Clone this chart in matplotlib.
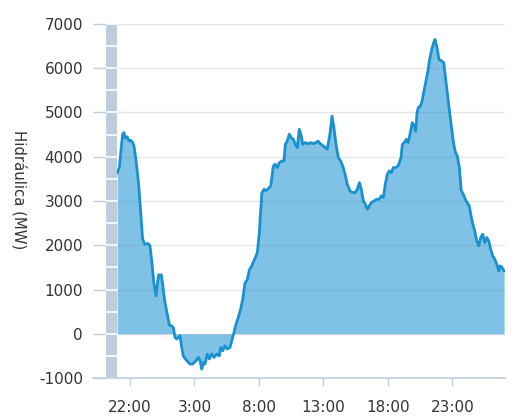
import matplotlib
matplotlib.use("Agg")
import matplotlib.pyplot as plt
from matplotlib.lines import Line2D
from matplotlib.patches import Rectangle
import numpy as np

# time in hours from 00:00 of the first day (values > 24 are next day)
hours = [21.0, 21.17, 21.43, 21.53, 21.64, 21.79, 21.90, 22.05, 22.21, 22.31,
         22.47, 22.67, 22.88, 22.98, 23.14, 23.40, 23.55, 23.71, 23.86, 24.02,
         24.12, 24.22, 24.43, 24.53, 24.69, 24.89, 25.05, 25.20, 25.36, 25.49,
         25.62, 25.88, 26.01, 26.13, 26.40, 26.65, 26.86, 27.12, 27.29, 27.43,
         27.56, 27.68, 27.81, 27.99, 28.15, 28.33, 28.51, 28.72, 28.92, 29.03,
         29.19, 29.36, 29.54, 29.75, 29.96, 30.22, 30.40, 30.58, 30.74, 30.91,
         31.09, 31.25, 31.43, 31.61, 31.77, 31.87, 32.02, 32.13, 32.23, 32.39,
         32.54, 32.75, 32.91, 33.11, 33.26, 33.42, 33.57, 33.78, 33.94, 34.04,
         34.19, 34.35, 34.50, 34.66, 34.81, 34.97, 35.12, 35.28, 35.39, 35.59,
         35.80, 36.01, 36.21, 36.42, 36.57, 36.73, 36.98, 37.29, 37.50, 37.66,
         37.81, 37.97, 38.15, 38.33, 38.49, 38.67, 38.84, 39.05, 39.26, 39.47,
         39.62, 39.78, 39.93, 40.09, 40.24, 40.40, 40.55, 40.71, 40.91, 41.12,
         41.33, 41.48, 41.64, 41.79, 41.95, 42.10, 42.26, 42.41, 42.57, 42.80,
         43.01, 43.11, 43.26, 43.42, 43.57, 43.73, 43.88, 44.04, 44.15, 44.25,
         44.35, 44.50, 44.61, 44.76, 44.92, 45.07, 45.23, 45.39, 45.54, 45.64,
         45.80, 45.95, 46.16, 46.32, 46.47, 46.63, 46.78, 46.94, 47.08, 47.23,
         47.37, 47.53, 47.68, 47.84, 47.99, 48.15, 48.30, 48.46, 48.61, 48.72,
         48.88, 49.03, 49.19, 49.34, 49.50, 49.66, 49.81, 49.96, 50.12, 50.27,
         50.43, 50.59, 50.69, 50.84, 51.0]
mw = [3640, 3750, 4510, 4545, 4430, 4450, 4360, 4370, 4320, 4245,
      3905, 3380, 2550, 2140, 2025, 2040, 1985, 1575, 1120, 860,
      1120, 1330, 1330, 1120, 745, 445, 200, 180, 140, -85,
      -120, -45, -310, -500, -610, -685, -685, -610, -535, -610,
      -800, -650, -685, -460, -570, -460, -535, -460, -500, -310,
      -385, -270, -345, -310, -85, 220, 370, 560, 780, 1140,
      1220, 1440, 1530, 1650, 1760, 1835, 2250, 2780, 3190, 3265,
      3230, 3290, 3340, 3790, 3830, 3755, 3865, 3905, 3905, 4280,
      4355, 4510, 4430, 4395, 4280, 4205, 4620, 4470, 4280, 4320,
      4295, 4320, 4295, 4320, 4355, 4300, 4245, 4170, 4510, 4920,
      4655, 4280, 3980, 3905, 3790, 3605, 3380, 3230, 3190, 3190,
      3265, 3415, 3265, 3000, 2930, 2815, 2890, 2965, 3000, 3040,
      3040, 3115, 3080, 3380, 3605, 3680, 3640, 3755, 3750, 3800,
      3980, 4280, 4320, 4395, 4320, 4545, 4770, 4695, 4580, 4995,
      5110, 5145, 5220, 5445, 5675, 5900, 6200, 6425, 6575, 6650,
      6465, 6200, 6165, 6125, 5750, 5370, 4995, 4620, 4300, 4100,
      4020, 3755, 3230, 3150, 3040, 2965, 2890, 2625, 2440, 2325,
      2100, 1985, 2175, 2250, 2060, 2175, 2100, 1910, 1760, 1685,
      1575, 1420, 1535, 1500, 1420]

xtick_pos = [22, 27, 32, 37, 42, 47]
xtick_labels = ["22:00", "3:00", "8:00", "13:00", "18:00", "23:00"]
ytick_vals = [-1000, 0, 1000, 2000, 3000, 4000, 5000, 6000, 7000]
ylabel = "Hidráulica (MW)"

W, H = 519, 419
fig = plt.figure(figsize=(W / 100, H / 100), dpi=100)
L, R, T, B = 106, 505, 24, 378
ax = fig.add_axes([L / W, 1 - B / H, (R - L) / W, (B - T) / H])

xmin, xmax = 20.14, 51.07
ax.set_xlim(xmin, xmax)
ax.set_ylim(-1000, 7000)

line_color = '#1990d0'
grid_color = '#e6e6e6'
axis_color = '#c0d0e0'

# gridlines
for v in ytick_vals:
    ax.axhline(v, color=grid_color, lw=1, zorder=0)

ax.fill_between(hours, mw, 0, color=line_color, alpha=0.55, lw=0, zorder=2)
ax.plot(hours, mw, color=line_color, lw=2.0, zorder=3, solid_joinstyle='round')

# band on the left (no data)
ax.add_patch(Rectangle((xmin, -1000), hours[0] - xmin, 8000, color='#bccddd',
                       lw=0, zorder=4))
for v in np.arange(-1000, 7001, 500):
    ax.plot([xmin, hours[0]], [v, v], color='white', lw=1.2, zorder=5)

for s in ax.spines.values():
    s.set_visible(False)

# extended bottom axis line
ax.add_line(Line2D([-(L - 93) / (R - L), 1], [0, 0], transform=ax.transAxes,
                   color=axis_color, lw=1.2, clip_on=False, zorder=6))

ax.set_yticks(ytick_vals)
ax.set_yticklabels([str(v) for v in ytick_vals])
ax.tick_params(axis='y', length=9.5, width=1, color=axis_color, pad=7,
               labelsize=11, labelcolor='#333333')
ax.set_xticks(xtick_pos)
ax.set_xticklabels(xtick_labels)
ax.tick_params(axis='x', length=5.5, width=1, color=axis_color, pad=10,
               labelsize=11, labelcolor='#333333')

fig.text(19 / W, 1 - 190 / H, ylabel, rotation=270, ha='center', va='center',
         fontsize=10.7, color='#333333')

fig.savefig('out.png', dpi=100)
